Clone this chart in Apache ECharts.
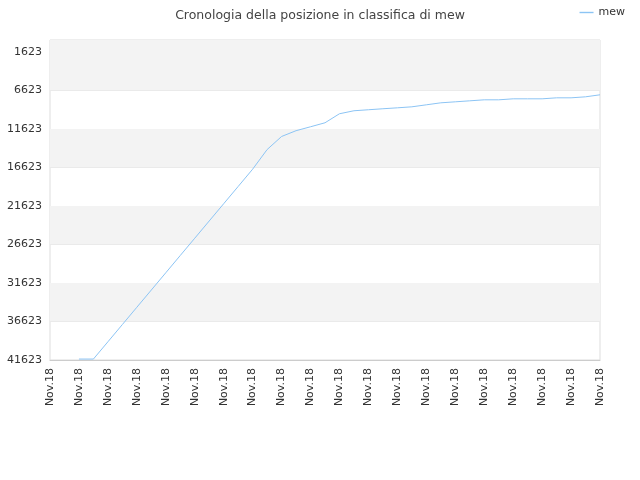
<!DOCTYPE html><html><head><meta charset="utf-8"><script src="https://cdn.jsdelivr.net/npm/echarts@6/dist/echarts.min.js"></script></head><body style="margin:0"><div id="c" style="width:640px;height:480px"></div><script>
const title = 'Cronologia della posizione in classifica di mew';
const seriesName = 'mew';
const xLabels = Array(39).fill('Nov.18');
const positions = [null,null,41500,41500,39259,37018,34777,32536,30295,28054,25813,23572,21331,19090,16849,14300,12600,11850,11340,10820,9650,9260,9130,9000,8880,8750,8490,8230,8100,7970,7840,7840,7710,7710,7710,7580,7580,7450,7190];
const worst = 41623, axisTop = 41550, tickStep = 5000;
const greyBands = [[5000,10000],[15000,20000],[25000,30000],[35000,axisTop]];
const chart = echarts.init(document.getElementById('c'));
chart.setOption({
  animation:false,
  title:{text:title,left:'center',top:4,textStyle:{fontSize:12.5,fontWeight:'normal',color:'#444',fontFamily:'DejaVu Sans'}},
  legend:{right:10,top:2,data:[seriesName],icon:'path://M0,0H10V1H0Z',itemWidth:14,itemHeight:2,textStyle:{fontSize:11,color:'#333',fontFamily:'DejaVu Sans'}},
  grid:{left:50,right:40,top:40,bottom:120,show:true,backgroundColor:'#fff',borderColor:'#ddd'},
  xAxis:{type:'category',data:xLabels,boundaryGap:false,axisLine:{lineStyle:{color:'#ccc'}},axisTick:{show:false},
    axisLabel:{interval:1,rotate:90,fontSize:11,color:'#333',fontFamily:'DejaVu Sans'},splitLine:{show:false}},
  yAxis:{type:'value',min:0,max:axisTop,interval:tickStep,axisLine:{show:false},axisTick:{show:false},
    axisLabel:{fontSize:11,color:'#333',fontFamily:'DejaVu Sans',showMaxLabel:false,formatter:v=>String(worst-v)},
    splitLine:{lineStyle:{color:'#e0e0e0'}},splitArea:{show:false}},
  series:[{name:seriesName,type:'line',data:positions.map(v=>v==null?null:worst-v),symbol:'none',lineStyle:{color:'#8cc4f4',width:1},itemStyle:{color:'#8cc4f4'},
    markArea:{silent:true,itemStyle:{color:'#f3f3f3'},data:greyBands.map(b=>[{yAxis:b[0]},{yAxis:b[1]}])}}]
});
</script></body></html>
